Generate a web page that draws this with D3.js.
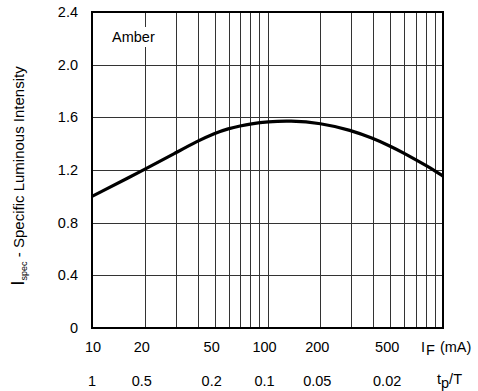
<!DOCTYPE html>
<meta charset="utf-8">
<script src="https://cdn.jsdelivr.net/npm/d3@7"></script>
<style>
body { margin: 0; background: #fff; }
text { font-family: "Liberation Sans", Arial, sans-serif; font-size: 14.5px; fill: #000; }
.grid line { stroke: #333; stroke-width: 1px; shape-rendering: crispEdges; }
.curve { fill: none; stroke: #000; stroke-width: 3.2px; }
</style>
<body>
<script>

// forward current (mA) and relative intensity
let current = [10, 20, 30, 40, 50, 60, 70, 80, 100, 134, 200, 300, 400, 500, 600, 700, 800, 900, 1000];
let intensity = [1.0, 1.205, 1.33, 1.42, 1.48, 1.515, 1.535, 1.55, 1.567, 1.575, 1.558, 1.502, 1.44, 1.382, 1.328, 1.278, 1.234, 1.194, 1.154];

let xTicks = [10, 20, 50, 100, 200, 500];
let dutyLabels = ["1", "0.5", "0.2", "0.1", "0.05", "0.02"];
let yTicks = [0, 0.4, 0.8, 1.2, 1.6, 2.0, 2.4];
let gridX = [20, 30, 40, 50, 60, 70, 80, 90, 100, 200, 300, 400, 500, 600, 700, 800, 900];

let width = 478, height = 391;
let plotL = 92, plotR = 443, plotT = 12, plotB = 328;

let svg = d3.select("body").append("svg")
    .attr("width", width)
    .attr("height", height);

let x = d3.scaleLog().domain([10, 1000]).range([plotL, plotR]);
let y = d3.scaleLinear().domain([0, 2.4]).range([plotB, plotT]);

let grid = svg.append("g").attr("class", "grid");
grid.selectAll(".gx").data(gridX).enter().append("line")
    .attr("x1", d => Math.round(x(d)) + 0.5).attr("x2", d => Math.round(x(d)) + 0.5)
    .attr("y1", plotT).attr("y2", plotB);
grid.selectAll(".gy").data(yTicks.slice(1, -1)).enter().append("line")
    .attr("x1", plotL).attr("x2", plotR)
    .attr("y1", d => Math.round(y(d)) + 0.5).attr("y2", d => Math.round(y(d)) + 0.5);

// label box hides the grid behind it
svg.append("rect").attr("x", 110).attr("y", 27).attr("width", 50).attr("height", 20).attr("fill", "#fff");
svg.append("text").attr("x", 112).attr("y", 42).text("Amber");

let line = d3.line()
    .x((d, i) => x(current[i]))
    .y(d => y(d))
    .curve(d3.curveBasis);

svg.append("path").datum(intensity)
    .attr("class", "curve")
    .attr("d", line);

svg.append("rect")
    .attr("x", plotL).attr("y", plotT)
    .attr("width", plotR - plotL).attr("height", plotB - plotT)
    .attr("fill", "none").attr("stroke", "#000").attr("stroke-width", 2);

// y tick labels
svg.selectAll(".ylab").data(yTicks).enter().append("text")
    .attr("x", 78).attr("y", d => y(d) + 5)
    .attr("text-anchor", "end")
    .text(d => d === 0 ? "0" : d.toFixed(1));

// x tick labels, two rows
svg.selectAll(".xlab").data(xTicks).enter().append("text")
    .attr("x", d => d === 10 ? x(d) + 1 : x(d) - 3).attr("y", 352)
    .attr("text-anchor", "middle")
    .text(d => d);
svg.selectAll(".dlab").data(xTicks).enter().append("text")
    .attr("x", d => d === 10 ? x(d) : x(d) - 3).attr("y", 386)
    .attr("text-anchor", "middle")
    .text((d, i) => dutyLabels[i]);

let xt = svg.append("text").attr("x", 421).attr("y", 352);
xt.append("tspan").text("I");
xt.append("tspan").attr("dy", 3).attr("dx", 1).text("F");
xt.append("tspan").attr("dy", -3).attr("dx", 5).text("(mA)");

let tt = svg.append("text").attr("x", 437).attr("y", 384);
tt.append("tspan").text("t");
tt.append("tspan").attr("dy", 4).text("p");
tt.append("tspan").attr("dy", -4).text("/T");

// y axis title
let yt = svg.append("text")
    .attr("transform", "translate(24,176) rotate(-90)")
    .attr("text-anchor", "middle")
    .style("font-size", "15px");
yt.append("tspan").style("font-size", "19px").text("I");
yt.append("tspan").attr("dy", 3).style("font-size", "9px").text("spec");
yt.append("tspan").attr("dy", -3).text(" - Specific Luminous Intensity");

</script>
